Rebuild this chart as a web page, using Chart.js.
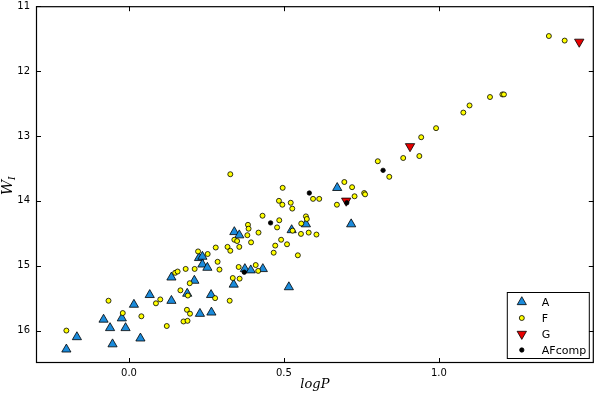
<!DOCTYPE html>
<html lang="en">
<head>
<meta charset="UTF-8" />
<title>W_I vs logP</title>
<script src="https://cdn.jsdelivr.net/npm/chart.js"></script>
<style>
  html, body { margin: 0; padding: 0; background: #fff; }
</style>
</head>
<body>
<canvas id="plc" width="600" height="393"></canvas>
<script>
// A stars
const aLogP = [-0.202, -0.168, -0.082, -0.061, -0.053, -0.023, -0.011, 0.016, 0.037, 0.067,
  0.137, 0.137, 0.188, 0.211, 0.226, 0.237, 0.237, 0.253, 0.229, 0.265,
  0.266, 0.340, 0.356, 0.338, 0.374, 0.393, 0.432, 0.516, 0.525, 0.571,
  0.672, 0.717];
const aWI = [16.29, 16.10, 15.83, 15.96, 16.21, 15.81, 15.96, 15.60, 16.12, 15.45,
  15.18, 15.54, 15.43, 15.23, 14.88, 14.86, 14.98, 15.03, 15.74, 15.45,
  15.72, 14.48, 14.53, 15.29, 15.05, 15.07, 15.05, 15.33, 14.45, 14.36,
  13.80, 14.36];

// F stars
const fLogP = [-0.202, -0.066, -0.020, 0.040, 0.087, 0.101, 0.122, 0.149, 0.157, 0.183,
  0.166, 0.190, 0.187, 0.197, 0.176, 0.189, 0.196, 0.212, 0.223, 0.254,
  0.280, 0.286, 0.292, 0.278, 0.318, 0.327, 0.325, 0.335, 0.340, 0.349,
  0.356, 0.354, 0.357, 0.384, 0.386, 0.382, 0.394, 0.409, 0.418, 0.417,
  0.431, 0.478, 0.485, 0.472, 0.467, 0.491, 0.510, 0.484, 0.495, 0.522,
  0.527, 0.528, 0.545, 0.327, 0.496, 1.355, 1.406, 1.205, 1.210, 1.165,
  1.099, 1.079, 0.991, 0.943, 0.937, 0.885, 0.803, 0.840, 0.695, 0.720,
  0.728, 0.759, 0.762, 0.594, 0.614, 0.671, 0.571, 0.574, 0.556, 0.555,
  0.580, 0.605];
const fWI = [16.00, 15.54, 15.73, 15.78, 15.58, 15.52, 15.93, 15.11, 15.09, 15.05,
  15.38, 15.46, 15.68, 15.74, 15.86, 15.85, 15.27, 15.05, 14.78, 14.82,
  14.72, 14.94, 15.06, 15.50, 14.71, 14.77, 15.54, 15.19, 14.60, 14.62,
  14.71, 15.02, 15.20, 14.37, 14.43, 14.53, 14.64, 14.99, 14.49, 15.08,
  14.23, 14.41, 14.30, 14.69, 14.80, 14.60, 14.67, 14.00, 14.06, 14.03,
  14.12, 14.46, 14.84, 13.59, 13.80, 11.46, 11.53, 12.36, 12.36, 12.40,
  12.53, 12.64, 12.88, 13.02, 13.31, 13.34, 13.39, 13.63, 13.71, 13.79,
  13.93, 13.88, 13.90, 13.97, 13.97, 14.06, 14.24, 14.28, 14.35, 14.51,
  14.49, 14.52];

// G stars
const gLogP = [1.453, 0.907, 0.701];
const gWI = [11.55, 13.16, 14.00];

// AF composites
const cLogP = [0.457, 0.372, 0.582, 0.820, 0.703];
const cWI = [14.34, 15.10, 13.88, 13.53, 14.03];

const xTicks = [0.0, 0.5, 1.0];
const xTickLabels = ['0.0', '0.5', '1.0'];
const yTicks = [11, 12, 13, 14, 15, 16];
const yTickLabels = ['11', '12', '13', '14', '15', '16'];

function pts(xs, ys) { return xs.map((x, i) => ({ x: x, y: ys[i] })); }

const series = [
  { label: 'A', shape: 'tri', fill: '#1b8bdb', r: 5.3 },
  { label: 'F', shape: 'circle', fill: '#ffff00', r: 2.5 },
  { label: 'G', shape: 'down', fill: '#e80000', r: 5.4 },
  { label: 'AFcomp', shape: 'dot', fill: '#000000', r: 2.2 }
];

function marker(ctx, s, x, y) {
  ctx.beginPath();
  if (s.shape === 'tri' || s.shape === 'down') {
    const d = s.shape === 'tri' ? 1 : -1;
    const r = s.r;
    ctx.moveTo(x, y - d * r);
    ctx.lineTo(x + r * 0.866, y + d * r * 0.5);
    ctx.lineTo(x - r * 0.866, y + d * r * 0.5);
    ctx.closePath();
  } else {
    ctx.arc(x, y, s.r, 0, Math.PI * 2);
  }
  ctx.fillStyle = s.fill;
  ctx.fill();
  ctx.strokeStyle = '#000';
  ctx.lineWidth = 0.8;
  ctx.stroke();
}

// matplotlib-like frame: inward ticks on all sides, labels, titles, legend
const frame = {
  id: 'frame',
  afterDraw(chart) {
    const ctx = chart.ctx, a = chart.chartArea;
    const x = chart.scales.x, y = chart.scales.y;
    ctx.save();
    ctx.strokeStyle = '#000';
    ctx.lineWidth = 1;
    ctx.beginPath();
    xTicks.forEach(v => {
      const px = Math.round(x.getPixelForValue(v)) + 0.5;
      ctx.moveTo(px, a.bottom); ctx.lineTo(px, a.bottom - 5);
      ctx.moveTo(px, a.top); ctx.lineTo(px, a.top + 5);
    });
    yTicks.forEach(v => {
      const py = Math.round(y.getPixelForValue(v)) + 0.5;
      ctx.moveTo(a.left, py); ctx.lineTo(a.left + 5, py);
      ctx.moveTo(a.right, py); ctx.lineTo(a.right - 5, py);
    });
    ctx.stroke();
    ctx.lineWidth = 1.2;
    ctx.strokeRect(a.left + 0.5, a.top + 0.5, a.right - a.left - 1, a.bottom - a.top - 1);

    // tick labels
    ctx.fillStyle = '#000';
    ctx.font = '10px "DejaVu Sans"';
    ctx.textBaseline = 'middle';
    ctx.textAlign = 'center';
    xTicks.forEach((v, i) => ctx.fillText(xTickLabels[i], x.getPixelForValue(v), a.bottom + 10));
    ctx.textAlign = 'right';
    yTicks.forEach((v, i) => ctx.fillText(yTickLabels[i], a.left - 6, y.getPixelForValue(v)));

    // axis titles
    ctx.textBaseline = 'alphabetic';
    ctx.textAlign = 'center';
    ctx.font = 'italic 13px "DejaVu Serif"';
    ctx.fillText('logP', (a.left + a.right) / 2, 388);

    ctx.save();
    ctx.translate(12, (a.top + a.bottom) / 2 + 1);
    ctx.rotate(-Math.PI / 2);
    ctx.textAlign = 'left';
    ctx.font = 'italic 15px "DejaVu Serif"';
    const ww = ctx.measureText('W').width;
    ctx.fillText('W', -ww / 2 - 2, 0);
    ctx.font = 'italic 9px "DejaVu Serif"';
    ctx.fillText('I', ww / 2 - 2, 3);
    ctx.restore();

    // legend box
    const bw = 82, bh = 66;
    const bx = a.right - 5 - bw, by = a.bottom - 5 - bh;
    ctx.fillStyle = '#fff';
    ctx.fillRect(bx, by, bw, bh);
    ctx.lineWidth = 1;
    ctx.strokeStyle = '#000';
    ctx.strokeRect(bx + 0.5, by + 0.5, bw, bh);
    ctx.font = '11px "DejaVu Sans"';
    ctx.textAlign = 'left';
    ctx.textBaseline = 'middle';
    series.forEach((s, i) => {
      const ly = by + 10 + i * 16;
      marker(ctx, s, bx + 15, ly);
      ctx.fillStyle = '#000';
      ctx.fillText(s.label, bx + 35, ly + 1);
    });
    ctx.restore();
  }
};

const sets = [[aLogP, aWI], [fLogP, fWI], [gLogP, gWI], [cLogP, cWI]];

new Chart(document.getElementById('plc'), {
  type: 'scatter',
  data: {
    datasets: series.map((s, i) => ({
      label: s.label,
      data: pts(sets[i][0], sets[i][1]),
      order: 4 - i,
      pointStyle: s.shape === 'tri' || s.shape === 'down' ? 'triangle' : 'circle',
      rotation: s.shape === 'down' ? 180 : 0,
      radius: s.r,
      hoverRadius: s.r,
      backgroundColor: s.fill,
      borderColor: '#000',
      borderWidth: 0.8
    }))
  },
  options: {
    responsive: false,
    animation: false,
    layout: { padding: { top: 6, right: 3, left: 0, bottom: 0 } },
    plugins: { legend: { display: false }, tooltip: { enabled: false } },
    scales: {
      x: {
        type: 'linear', min: -0.3, max: 1.5,
        grid: { display: false, drawTicks: false },
        border: { display: false },
        ticks: { display: false },
        afterFit: s => { s.height = 30; s.paddingLeft = 0; s.paddingRight = 0; }
      },
      y: {
        type: 'linear', min: 11, max: 16.5, reverse: true,
        grid: { display: false, drawTicks: false },
        border: { display: false },
        ticks: { display: false },
        afterFit: s => { s.width = 36; s.paddingTop = 0; s.paddingBottom = 0; }
      }
    }
  },
  plugins: [frame]
});
</script>
</body>
</html>
